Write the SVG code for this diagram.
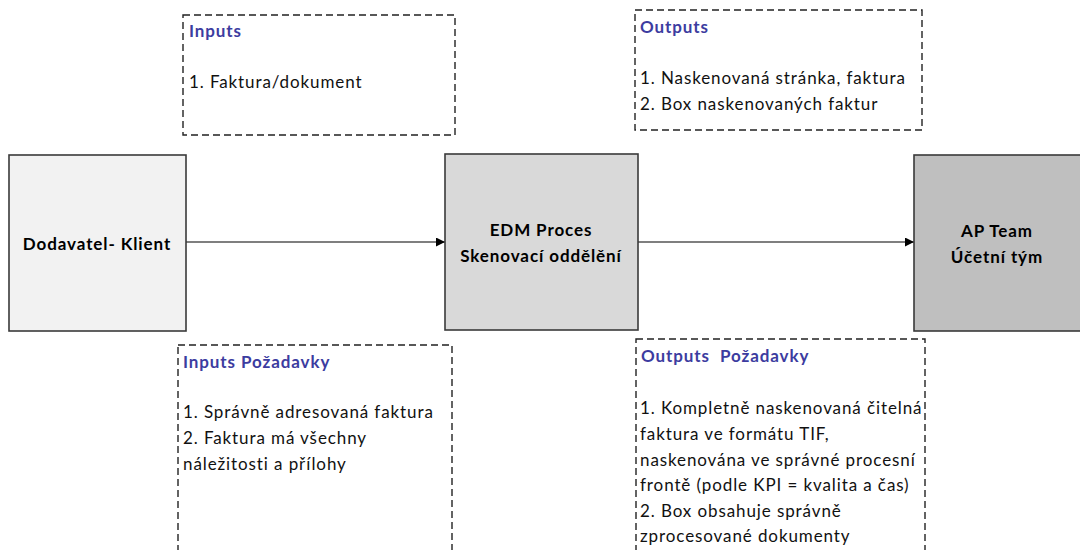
<svg xmlns="http://www.w3.org/2000/svg" width="1080" height="550" viewBox="0 0 1080 550">
  <defs>
    <marker id="arrow" viewBox="0 0 10 10" refX="10" refY="5" markerWidth="9" markerHeight="9" markerUnits="userSpaceOnUse" orient="auto">
      <path d="M0,0 L10,5 L0,10 z" fill="#000"/>
    </marker>
  </defs>
  <style>
    .node { stroke: #3a3a3a; stroke-width: 1.6; }
    .note { fill: #fff; stroke: #222; stroke-width: 1.4; stroke-dasharray: 7 4; }
    text { font-family: Lato, "Open Sans", sans-serif; font-size: 17px; letter-spacing: 0.9px; }
    .ntext { font-weight: bold; fill: #000; text-anchor: middle; }
    .head { font-weight: bold; fill: #3c3ca0; }
    .body { fill: #111; }
    .conn { stroke: #000; stroke-width: 1.2; fill: none; }
  </style>
  <rect width="1080" height="550" fill="#fff"/>

  <!-- connectors -->
  <g id="connectors">
    <line class="conn" x1="186" y1="242" x2="445" y2="242" marker-end="url(#arrow)"/>
    <line class="conn" x1="638" y1="242" x2="914" y2="242" marker-end="url(#arrow)"/>
  </g>

  <!-- process nodes -->
  <g id="supplier">
    <rect class="node" x="9" y="155" width="177" height="176" fill="#f2f2f2"/>
    <text class="ntext" x="97" y="250">Dodavatel- Klient</text>
  </g>
  <g id="edm">
    <rect class="node" x="445" y="154" width="193" height="176" fill="#d9d9d9"/>
    <text class="ntext" x="541" y="236">EDM Proces</text>
    <text class="ntext" x="541" y="262">Skenovací oddělění</text>
  </g>
  <g id="ap-team">
    <rect class="node" x="914" y="155" width="180" height="176" fill="#bfbfbf"/>
    <text class="ntext" x="997" y="237">AP Team</text>
    <text class="ntext" x="997" y="263">Účetní tým</text>
  </g>

  <!-- annotation boxes -->
  <g id="inputs">
    <rect class="note" x="183" y="15" width="272" height="120"/>
    <text class="head" x="189" y="37">Inputs</text>
    <text class="body" x="189" y="88">1. Faktura/dokument</text>
  </g>
  <g id="outputs">
    <rect class="note" x="635" y="10" width="287" height="120"/>
    <text class="head" x="640" y="33">Outputs</text>
    <text class="body" x="640" y="84">1. Naskenovaná stránka, faktura</text>
    <text class="body" x="640" y="110">2. Box naskenovaných faktur</text>
  </g>
  <g id="inputs-req">
    <rect class="note" x="178" y="345" width="274" height="220"/>
    <text class="head" x="183" y="368">Inputs Požadavky</text>
    <text class="body" x="183" y="418">1. Správně adresovaná faktura</text>
    <text class="body" x="183" y="444">2. Faktura má všechny</text>
    <text class="body" x="183" y="470">náležitosti a přílohy</text>
  </g>
  <g id="outputs-req">
    <rect class="note" x="636" y="339" width="289" height="230"/>
    <text class="head" x="641" y="362" style="white-space: pre">Outputs  Požadavky</text>
    <text class="body" x="640" y="414">1. Kompletně naskenovaná čitelná</text>
    <text class="body" x="640" y="440">faktura ve formátu TIF,</text>
    <text class="body" x="640" y="466">naskenována ve správné procesní</text>
    <text class="body" x="640" y="491">frontě (podle KPI = kvalita a čas)</text>
    <text class="body" x="640" y="517">2. Box obsahuje správně</text>
    <text class="body" x="640" y="542">zprocesované dokumenty</text>
  </g>
</svg>
